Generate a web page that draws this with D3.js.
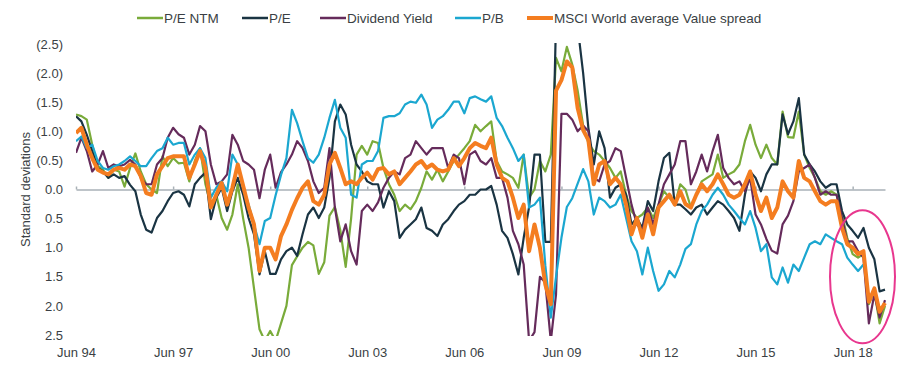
<!DOCTYPE html>
<html>
<head>
<meta charset="utf-8">
<script src="https://cdn.jsdelivr.net/npm/d3@7"></script>
<style>
body { margin: 0; background: #fff; }
svg { display: block; font-family: "Liberation Sans", Arial, sans-serif; }
</style>
</head>
<body>
<script>
// Chart settings
const width = 900;
const height = 368;
const plot = { left: 76, right: 885, top: 44, bottom: 335 };

// Data: standard deviations, one value every 2 months from Jun 94
const startMonth = new Date(1994, 5, 1);
const endMonth = new Date(2019, 5, 1);

const peNtm = [
  -1.29, -1.26, -1.2, -0.77, -0.4, -0.34, -0.2, -0.34, -0.31, -0.05,
  -0.37, -0.62, -0.31, -0.09, 0.0, 0.06, -0.57, -0.4, -0.54, -0.45,
  -0.46, -0.14, -0.49, -0.71, -0.09, 0.26, 0.09, 0.49, 0.69, 0.43,
  -0.09, 0.5, 1.0, 1.7, 2.4, 2.6, 2.43, 2.6, 2.3, 2.0,
  1.3, 1.15, 1.0, 0.9, 0.96, 1.45, 1.25, 0.45, 0.3, 0.7,
  1.33, 0.5, -0.6, -0.75, -0.6, -0.83, -0.8, -0.37, -0.09, 0.09,
  0.37, 0.26, 0.34, 0.2, -0.03, -0.31, -0.17, -0.34, -0.14, -0.31,
  -0.49, -0.6, -0.71, -0.83, -1.11, -1.0, -1.09, -1.17, -0.49, -0.31,
  -0.26, -0.2, -0.03, -0.6, 0.14, 0.0, -0.49, -0.31, -0.6, -2.26,
  -2.03, -2.45, -2.15, -1.7, -1.1, -0.8, -0.66, -0.6, -0.49, -0.37,
  -0.2, -0.31, 0.09, 0.37, 0.49, 0.43, 0.31, 0.49, 0.26, 0.03,
  0.14, 0.26, -0.09, 0.0, 0.31, 0.09, -0.14, -0.2, -0.26, -0.6,
  -0.2, -0.26, -0.31, -0.43, -0.83, -1.11, -0.77, -0.54, -0.77, -0.54,
  -0.43, -1.34, -0.9, -0.89, -1.34, -0.6, -0.37, -0.2, 0.03, 0.09,
  0.03, 0.09, 0.43, 0.83, 1.11, 1.17, 1.11, 1.97, 1.75, 2.3, 2.0
];

const pe = [
  -1.26, -1.17, -0.94, -0.66, -0.37, -0.31, -0.2, -0.26, -0.2, -0.23,
  -0.08, 0.03, 0.43, 0.69, 0.74, 0.49, 0.37, 0.2, 0.06, 0.03,
  0.09, 0.29, -0.09, -0.2, -0.29, 0.51, 0.14, -0.03, 0.37, 0.03,
  -0.2, 0.09, 0.49, 0.77, 1.46, 1.06, 1.45, 1.45, 1.2, 1.06,
  1.0, 1.14, 0.77, 0.43, 0.31, 0.49, 0.31, -0.2, -1.17, -1.46,
  -1.29, -0.77, -0.43, -0.31, -0.14, -0.09, -0.09, 0.31, 0.03, 0.2,
  0.83, 0.69, 0.6, 0.51, 0.31, 0.66, 0.71, 0.8, 0.6, 0.51,
  0.37, 0.26, 0.2, 0.09, 0.09, 0.0, 0.0, -0.06, 0.26, 0.71,
  0.83, 1.11, 1.46, 0.83, 0.3, -0.6, -0.6, 0.9, 0.9, -2.9,
  -3.0, -3.0, -2.9, -2.8, -2.0, -1.06, -0.43, -1.0, -0.71, 0.14,
  -0.03, -0.09, 0.09, 0.6, 0.49, 0.66, 0.2, 0.37, -0.14, -0.54,
  -0.63, 0.26, 0.26, 0.34, 0.43, 0.31, 0.26, 0.43, 0.31, 0.2,
  0.26, 0.37, 0.49, 0.71, 0.09, -0.31, -0.2, 0.03, -0.26, -0.43,
  -0.43, -1.29, -0.95, -1.17, -1.57, -0.6, -0.43, -0.31, -0.14, -0.03,
  -0.09, -0.09, 0.37, 0.6, 0.71, 0.83, 0.66, 1.0, 1.2, 1.75, 1.72
];

const dividendYield = [
  -0.63, -0.89, -0.66, -0.31, -0.43, -0.66, -0.37, -0.43, -0.4, -0.43,
  -0.51, -0.43, -0.2, -0.09, -0.09, -0.43, -0.54, -0.89, -1.06, -0.95,
  -0.89, -0.6, -0.77, -1.09, -1.0, -0.43, -0.09, -0.14, -0.26, -0.94,
  -0.77, -0.49, -0.43, -0.34, 0.15, -0.34, -0.6, -0.03, -0.3, -0.43,
  -0.6, -0.83, -0.71, -0.49, -0.14, 0.06, -0.03, -0.71, 0.31, 0.89,
  0.6, 1.06, 1.29, 0.37, 0.26, 0.37, 0.22, -0.03, -0.2, -0.31,
  -0.26, -0.54, -0.6, -0.83, -0.71, -0.6, -0.71, -0.71, -0.71, -0.37,
  -0.6, -0.54, -0.09, -0.6, -0.66, -0.49, -0.43, -0.54, -0.2, -0.2,
  0.14, 0.71, 0.94, 1.29, 2.6, 2.45, 1.5, 1.6, 2.6, 1.8,
  -1.3, -1.3, -1.2, -1.0, -1.1, -1.0, -0.2, -0.14, -0.43, -0.49,
  -0.71, -0.66, -0.2, 0.26, 0.6, 0.71, 0.31, 0.6, 0.26, -0.09,
  -0.26, -0.43, -0.83, -0.83, -0.09, -0.31, -0.6, -0.31, -0.66, -0.94,
  -0.37, -0.2, -0.09, -0.14, 0.03, -0.2, 0.43, 0.6, 0.85, 1.05,
  1.1, 0.6, 0.45, 0.2, -0.31, -0.37, -0.43, -0.2, 0.09, 0.03,
  0.09, 0.09, 0.49, 0.89, 0.89, 1.06, 1.17, 2.3, 1.8, 2.2, 1.9
];

const pb = [
  -0.83, -0.91, -0.71, -0.77, -0.49, -0.37, -0.34, -0.4, -0.43, -0.49,
  -0.57, -0.49, -0.4, -0.4, -0.54, -0.66, -0.71, -0.89, -0.77, -0.8,
  -0.8, -0.43, -0.6, -0.71, -0.54, 0.14, -0.03, -0.14, 0.03, -0.6,
  -0.43, -0.03, 0.26, 0.6, 0.94, 0.54, 0.49, 0.1, -0.25, -0.54,
  -1.37, -1.14, -0.83, -0.54, -0.46, -0.6, -0.89, -1.23, -1.54, -1.06,
  -0.89, 0.09, 0.14, -0.43, -0.49, -0.49, -0.66, -1.23, -1.26, -1.26,
  -1.31, -1.46, -1.51, -1.49, -1.63, -1.46, -1.06, -1.2, -1.26, -1.37,
  -1.51, -1.51, -1.31, -1.57, -1.6, -1.55, -1.51, -1.6, -1.23, -1.09,
  -0.89, -0.71, -0.49, -0.6, 0.31, 0.26, 0.14, 1.3, 2.2, 1.5,
  0.83, 0.3, 0.15, -0.1, -0.35, -0.14, 0.43, 0.14, 0.2, 0.31,
  0.26, 0.09, 0.49, 0.89, 1.06, 1.46, 1.0, 1.4, 1.74, 1.63,
  1.4, 1.51, 1.29, 1.02, 0.94, 0.6, 0.37, 0.26, 0.09, -0.03,
  0.09, 0.26, 0.37, 0.49, 0.6, 0.37, 0.66, 1.06, 0.94, 1.51,
  1.63, 1.34, 1.6, 1.29, 1.4, 1.17, 0.94, 0.89, 0.94, 0.77,
  0.83, 0.89, 0.94, 1.17, 1.29, 1.4, 1.29, null, null, null, null
];

const valueSpread = [
  -0.97, -1.06, -0.77, -0.54, -0.34, -0.29, -0.26, -0.34, -0.37, -0.34,
  -0.43, -0.4, -0.23, 0.06, 0.09, -0.26, -0.4, -0.54, -0.57, -0.57,
  -0.57, -0.2, -0.43, -0.66, -0.37, 0.31, 0.09, -0.11, 0.26, -0.03,
  -0.43, -0.06, 0.31, 0.6, 1.4, 1.0, 1.0, 1.2, 0.8, 0.6,
  0.35, 0.15, -0.03, -0.14, 0.2, 0.26, 0.09, -0.43, -0.63, -0.37,
  -0.09, -0.14, -0.09, -0.2, -0.29, -0.17, -0.35, -0.37, -0.26, -0.31,
  -0.09, -0.2, -0.31, -0.43, -0.49, -0.37, -0.43, -0.34, -0.31, -0.34,
  -0.54, -0.4, -0.54, -0.71, -0.8, -0.75, -0.71, -0.89, -0.43, -0.2,
  -0.14, 0.14, 0.49, 0.26, 1.06, 0.6, 1.0, 1.63, 1.97, -1.7,
  -1.88, -2.2, -2.1, -1.4, -1.02, -0.85, -0.09, -0.43, -0.49, -0.09,
  -0.2, -0.09, 0.26, 0.77, 0.49, 0.83, 0.43, 0.77, 0.31, 0.2,
  0.09, 0.26, 0.03, 0.25, 0.31, 0.09, -0.09, 0.03, -0.09, -0.26,
  -0.09, 0.09, 0.14, 0.09, -0.09, -0.31, 0.09, 0.37, 0.14, 0.49,
  0.31, -0.14, 0.03, 0.14, -0.49, -0.2, -0.14, 0.03, 0.2, 0.26,
  0.2, 0.2, 0.66, 0.94, 1.0, 1.11, 1.06, 1.93, 1.7, 2.1, 1.95
];

const seriesNames = ['P/E NTM', 'P/E', 'Dividend Yield', 'P/B', 'MSCI World average Value spread'];
const seriesValues = [peNtm, pe, dividendYield, pb, valueSpread];
const seriesColors = ['#79ab3a', '#1a3443', '#652b5b', '#1ba7d0', '#f47d20'];
const seriesWidths = [2.2, 2.2, 2.2, 2.2, 4];
const legendX = [137, 242, 320, 455, 527];

const yTicks = [-2.5, -2, -1.5, -1, -0.5, 0, 0.5, 1, 1.5, 2, 2.5];
const xTickYears = [1994, 1997, 2000, 2003, 2006, 2009, 2012, 2015, 2018];

const dates = peNtm.map((d, i) => d3.timeMonth.offset(startMonth, 2 * i));

const svg = d3.select('body')
  .append('svg')
  .attr('width', width)
  .attr('height', height);

// Scales
const x = d3.scaleTime()
  .domain([startMonth, endMonth])
  .range([plot.left, plot.right]);

const y = d3.scaleLinear()
  .domain([-2.5, 2.5])
  .range([plot.top, plot.bottom]);

const tickDates = xTickYears.map(yr => new Date(yr, 5, 1));

// Zero line with small ticks
const zeroAxis = svg.append('g')
  .attr('transform', `translate(0, ${y(0)})`)
  .call(d3.axisTop(x).tickValues(tickDates).tickSize(3).tickSizeOuter(0).tickFormat(''));
zeroAxis.selectAll('path, line').attr('stroke', '#a9b1b7').attr('stroke-width', 1.5);

// Bottom date labels
svg.append('g')
  .attr('transform', `translate(0, 345)`)
  .call(d3.axisBottom(x).tickValues(tickDates).tickSize(0).tickPadding(3)
    .tickFormat(d3.timeFormat('%b %y')))
  .call(g => g.select('.domain').remove())
  .call(g => g.selectAll('text')
    .attr('font-size', 13)
    .attr('font-family', '"Liberation Sans", Arial, sans-serif')
    .attr('fill', '#3a3f44'));

// Vertical axis labels, negatives in brackets
svg.append('g')
  .attr('transform', `translate(66, 0)`)
  .call(d3.axisLeft(y).tickValues(yTicks).tickSize(0).tickPadding(3)
    .tickFormat(d => d < 0 ? `(${d3.format('.1f')(-d)})` : d3.format('.1f')(d)))
  .call(g => g.select('.domain').remove())
  .call(g => g.selectAll('text')
    .attr('font-size', 13)
    .attr('font-family', '"Liberation Sans", Arial, sans-serif')
    .attr('fill', '#3a3f44'));

svg.append('text')
  .attr('transform', `translate(29.5, ${y(0)}) rotate(-90)`)
  .attr('text-anchor', 'middle')
  .attr('font-size', 13)
  .attr('fill', '#3a3f44')
  .text('Standard deviations');

// Clip lines to the plot area
svg.append('clipPath')
  .attr('id', 'plot-clip')
  .append('rect')
  .attr('x', plot.left)
  .attr('y', plot.top - 1)
  .attr('width', plot.right - plot.left + 3)
  .attr('height', plot.bottom - plot.top + 2);

const line = d3.line()
  .defined(d => d.value != null)
  .x(d => x(d.date))
  .y(d => y(d.value));

svg.append('g')
  .attr('clip-path', 'url(#plot-clip)')
  .selectAll('path')
  .data(seriesValues)
  .enter()
  .append('path')
  .attr('fill', 'none')
  .attr('stroke', (d, i) => seriesColors[i])
  .attr('stroke-width', (d, i) => seriesWidths[i])
  .attr('stroke-linejoin', 'round')
  .attr('d', vals => line(vals.map((v, i) => ({ date: dates[i], value: v }))));

// Highlight circle around the latest readings
svg.append('ellipse')
  .attr('cx', x(new Date(2018, 8, 20)))
  .attr('cy', y(1.5))
  .attr('rx', 32.5)
  .attr('ry', 66.5)
  .attr('fill', 'none')
  .attr('stroke', '#e8378e')
  .attr('stroke-width', 2);

// Legend
const legend = svg.append('g')
  .selectAll('g')
  .data(seriesNames)
  .enter()
  .append('g')
  .attr('transform', (d, i) => `translate(${legendX[i]}, 18)`);

legend.append('line')
  .attr('x1', 0)
  .attr('x2', 26)
  .attr('stroke', (d, i) => seriesColors[i])
  .attr('stroke-width', (d, i) => i === 4 ? 4 : 2.5);

legend.append('text')
  .attr('x', 27)
  .attr('dy', '0.35em')
  .attr('font-size', 13.5)
  .attr('fill', '#3a3f44')
  .text(d => d);
</script>
</body>
</html>
